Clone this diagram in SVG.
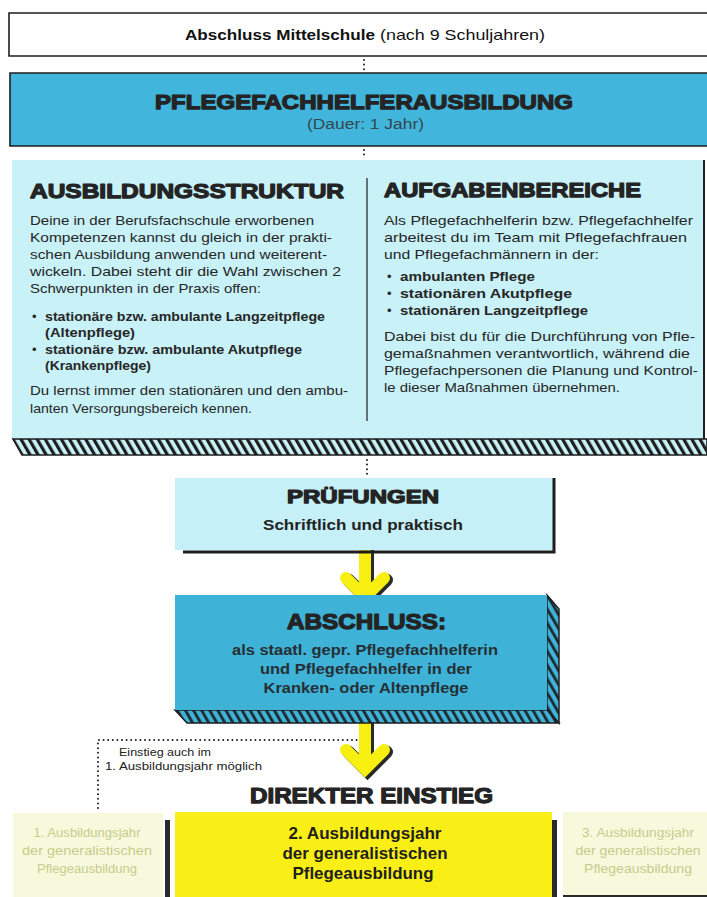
<svg xmlns="http://www.w3.org/2000/svg" width="707" height="897" viewBox="0 0 707 897">
<style>
.h{font-family:"Liberation Sans",Arial,sans-serif;font-weight:bold;fill:#242424;stroke:#242424;stroke-width:1.25;stroke-linejoin:round;text-anchor:start;}
.b{font-family:"Liberation Sans",Arial,sans-serif;font-size:13px;fill:#262626;}
.bb{font-weight:bold;}
.dot{fill:none;stroke:#1e1e1e;stroke-width:2;stroke-linecap:round;stroke-dasharray:0 4.6;}
.arr{fill:none;stroke:#f7ef10;stroke-width:12;stroke-linecap:round;stroke-linejoin:miter;}
.arrs{fill:none;stroke:#2a2a2a;stroke-width:13;stroke-linecap:round;stroke-linejoin:miter;}
.edge{stroke:#1e1e1e;stroke-width:1.6;fill:none;}
.pale{font-family:"Liberation Sans",Arial,sans-serif;font-size:12px;fill:#c6cc8a;text-anchor:middle;}
.yel{font-family:"Liberation Sans",Arial,sans-serif;font-size:17px;font-weight:bold;fill:#1e1e1e;}
</style>
<defs>
<pattern id="hc" width="7" height="7" patternUnits="userSpaceOnUse" patternTransform="rotate(-30)"><rect width="7" height="7" fill="#c8f1f8"/><rect width="3.2" height="7" fill="#1e1e1e"/></pattern>
<pattern id="hb" width="7" height="7" patternUnits="userSpaceOnUse" patternTransform="rotate(-30)"><rect width="7" height="7" fill="#3fb2d8"/><rect width="2.8" height="7" fill="#1e2a30"/></pattern>
</defs>

<g id="connectors">
<line class="dot" x1="364" y1="60" x2="364" y2="71"/>
<line class="dot" x1="364" y1="150" x2="364" y2="159"/>
<line class="dot" x1="367" y1="460" x2="367" y2="475"/>
<polyline class="dot" points="98,808 98,740 358,740"/>
<g id="arrow1">
<path class="arrs" d="M367.5,546 V597 M348.5,580 L367.5,599 L386.5,580"/>
<path class="arr" d="M365,545 V596 M346,578 L365,597 L384,578"/>
</g>
<g id="arrow2">
<path class="arrs" d="M367.5,716 V769 M348.5,752 L367.5,771 L386.5,752"/>
<path class="arr" d="M365,715 V768 M346,750 L365,769 L384,750"/>
</g>
</g>

<g id="mittelschule">
<rect x="9" y="13" width="700" height="43" fill="#ffffff"/>
<path class="edge" d="M707,13 H9 V56 H707"/>
<text x="185" y="40" font-family="Liberation Sans, Arial, sans-serif" font-size="15" fill="#111"><tspan font-weight="bold" textLength="190" lengthAdjust="spacingAndGlyphs">Abschluss Mittelschule</tspan></text>
<text x="380" y="40" font-family="Liberation Sans, Arial, sans-serif" font-size="15" fill="#111" textLength="165" lengthAdjust="spacingAndGlyphs">(nach 9 Schuljahren)</text>
</g>

<g id="pflegefachhelferausbildung">
<rect x="10" y="73" width="699" height="73" fill="#41b5dc"/>
<path class="edge" d="M707,73 H10 V146 H707"/>
<text class="h" x="155" y="109" font-size="21" textLength="418" lengthAdjust="spacingAndGlyphs">PFLEGEFACHHELFERAUSBILDUNG</text>
<text x="307" y="129" font-family="Liberation Sans, Arial, sans-serif" font-size="14" fill="#34474f" textLength="117" lengthAdjust="spacingAndGlyphs">(Dauer: 1 Jahr)</text>
</g>

<g id="ausbildungsinfo">
<rect x="12" y="160" width="693" height="279" fill="#c8f1f8"/>
<line x1="704" y1="160" x2="704" y2="439" stroke="#1e1e1e" stroke-width="2"/>
<polygon points="13,439 707,439 707,455 22,455" fill="url(#hc)" stroke="#1e1e1e" stroke-width="1.6"/>
<line x1="367" y1="178" x2="367" y2="421" stroke="#1e1e1e" stroke-width="1.2"/>
</g>

<g id="ausbildungsstruktur">
<text class="h" x="30" y="198" font-size="21" textLength="314" lengthAdjust="spacingAndGlyphs">AUSBILDUNGSSTRUKTUR</text>
<text class="b" x="30" y="225" textLength="284" lengthAdjust="spacingAndGlyphs">Deine in der Berufsfachschule erworbenen</text>
<text class="b" x="30" y="242" textLength="302" lengthAdjust="spacingAndGlyphs">Kompetenzen kannst du gleich in der prakti-</text>
<text class="b" x="30" y="259" textLength="297" lengthAdjust="spacingAndGlyphs">schen Ausbildung anwenden und weiterent-</text>
<text class="b" x="30" y="276" textLength="311" lengthAdjust="spacingAndGlyphs">wickeln. Dabei steht dir die Wahl zwischen 2</text>
<text class="b" x="30" y="293" textLength="231" lengthAdjust="spacingAndGlyphs">Schwerpunkten in der Praxis offen:</text>
<text class="b" x="32" y="321">•</text>
<text class="b bb" x="45" y="321" textLength="280" lengthAdjust="spacingAndGlyphs">stationäre bzw. ambulante Langzeitpflege</text>
<text class="b bb" x="45" y="337" textLength="90" lengthAdjust="spacingAndGlyphs">(Altenpflege)</text>
<text class="b" x="32" y="354">•</text>
<text class="b bb" x="45" y="354" textLength="257" lengthAdjust="spacingAndGlyphs">stationäre bzw. ambulante Akutpflege</text>
<text class="b bb" x="45" y="370" textLength="106" lengthAdjust="spacingAndGlyphs">(Krankenpflege)</text>
<text class="b" x="30" y="395" textLength="318" lengthAdjust="spacingAndGlyphs">Du lernst immer den stationären und den ambu-</text>
<text class="b" x="30" y="413" textLength="222" lengthAdjust="spacingAndGlyphs">lanten Versorgungsbereich kennen.</text>
</g>

<g id="aufgabenbereiche">
<text class="h" x="384" y="197" font-size="21" textLength="257" lengthAdjust="spacingAndGlyphs">AUFGABENBEREICHE</text>
<text class="b" x="384" y="225" textLength="309" lengthAdjust="spacingAndGlyphs">Als Pflegefachhelferin bzw. Pflegefachhelfer</text>
<text class="b" x="384" y="242" textLength="303" lengthAdjust="spacingAndGlyphs">arbeitest du im Team mit Pflegefachfrauen</text>
<text class="b" x="384" y="259" textLength="215" lengthAdjust="spacingAndGlyphs">und Pflegefachmännern in der:</text>
<text class="b" x="387" y="281">•</text>
<text class="b bb" x="400" y="281" textLength="135" lengthAdjust="spacingAndGlyphs">ambulanten Pflege</text>
<text class="b" x="387" y="298">•</text>
<text class="b bb" x="400" y="298" textLength="172" lengthAdjust="spacingAndGlyphs">stationären Akutpflege</text>
<text class="b" x="387" y="315">•</text>
<text class="b bb" x="400" y="315" textLength="188" lengthAdjust="spacingAndGlyphs">stationären Langzeitpflege</text>
<text class="b" x="384" y="341" textLength="311" lengthAdjust="spacingAndGlyphs">Dabei bist du für die Durchführung von Pfle-</text>
<text class="b" x="384" y="358" textLength="306" lengthAdjust="spacingAndGlyphs">gemaßnahmen verantwortlich, während die</text>
<text class="b" x="384" y="375" textLength="314" lengthAdjust="spacingAndGlyphs">Pflegefachpersonen die Planung und Kontrol-</text>
<text class="b" x="384" y="392" textLength="236" lengthAdjust="spacingAndGlyphs">le dieser Maßnahmen übernehmen.</text>
</g>

<g id="pruefungen">
<rect x="175" y="478" width="378" height="72" fill="#c5f0f8"/>
<path d="M183,552 H554 V478" fill="none" stroke="#1e1e1e" stroke-width="3"/>
<text class="h" x="287" y="503" font-size="19" textLength="152" lengthAdjust="spacingAndGlyphs">PRÜFUNGEN</text>
<text x="263" y="530" font-family="Liberation Sans, Arial, sans-serif" font-size="15" font-weight="bold" fill="#222" textLength="200" lengthAdjust="spacingAndGlyphs">Schriftlich und praktisch</text>
</g>

<g id="abschluss">
<polygon points="547,595 559,609 559,723 547,710" fill="url(#hb)" stroke="#1e1e1e" stroke-width="1.5"/>
<polygon points="175,710 547,710 559,723 187,723" fill="url(#hb)" stroke="#1e1e1e" stroke-width="1.5"/>
<rect x="175" y="595" width="372" height="115" fill="#3fb2d8"/>
<text class="h" x="287" y="629" font-size="22" textLength="159" lengthAdjust="spacingAndGlyphs">ABSCHLUSS:</text>
<text x="365" y="655" font-family="Liberation Sans, Arial, sans-serif" font-size="14" font-weight="bold" fill="#252f33" text-anchor="middle" textLength="266" lengthAdjust="spacingAndGlyphs">als staatl. gepr. Pflegefachhelferin</text>
<text x="366" y="674" font-family="Liberation Sans, Arial, sans-serif" font-size="14" font-weight="bold" fill="#252f33" text-anchor="middle" textLength="212" lengthAdjust="spacingAndGlyphs">und Pflegefachhelfer in der</text>
<text x="366" y="693" font-family="Liberation Sans, Arial, sans-serif" font-size="14" font-weight="bold" fill="#252f33" text-anchor="middle" textLength="205" lengthAdjust="spacingAndGlyphs">Kranken- oder Altenpflege</text>
</g>

<g id="einstieg-hinweis">
<text x="119" y="756" font-family="Liberation Sans, Arial, sans-serif" font-size="10" fill="#222" textLength="92" lengthAdjust="spacingAndGlyphs">Einstieg auch im</text>
<text x="105" y="770" font-family="Liberation Sans, Arial, sans-serif" font-size="10" fill="#222" textLength="157" lengthAdjust="spacingAndGlyphs">1. Ausbildungsjahr möglich</text>
</g>

<g id="direkter-einstieg">
<text class="h" x="250" y="803" font-size="22" textLength="243" lengthAdjust="spacingAndGlyphs">DIREKTER EINSTIEG</text>
</g>

<g id="jahr1">
<rect x="13" y="813" width="150" height="84" fill="#f7f9dd"/>
<rect x="165" y="820" width="5" height="77" fill="#2a2a2a"/>
<text class="pale" x="87" y="837" textLength="107" lengthAdjust="spacingAndGlyphs">1. Ausbildungsjahr</text>
<text class="pale" x="87" y="855" textLength="130" lengthAdjust="spacingAndGlyphs">der generalistischen</text>
<text class="pale" x="87" y="873" textLength="100" lengthAdjust="spacingAndGlyphs">Pflegeausbildung</text>
</g>

<g id="jahr2">
<rect x="175" y="812" width="377" height="85" fill="#f9ef16"/>
<rect x="552" y="820" width="5" height="77" fill="#2a2a2a"/>
<text class="yel" x="365" y="839" text-anchor="middle" textLength="153" lengthAdjust="spacingAndGlyphs">2. Ausbildungsjahr</text>
<text class="yel" x="365" y="859" text-anchor="middle" textLength="165" lengthAdjust="spacingAndGlyphs">der generalistischen</text>
<text class="yel" x="363" y="879" text-anchor="middle" textLength="141" lengthAdjust="spacingAndGlyphs">Pflegeausbildung</text>
</g>

<g id="jahr3">
<rect x="563" y="812" width="144" height="85" fill="#f7f9dd"/>
<line x1="563" y1="896" x2="707" y2="896" stroke="#2a2a2a" stroke-width="2"/>
<text class="pale" x="638" y="837" textLength="112" lengthAdjust="spacingAndGlyphs">3. Ausbildungsjahr</text>
<text class="pale" x="638" y="855" textLength="125" lengthAdjust="spacingAndGlyphs">der generalistischen</text>
<text class="pale" x="638" y="873" textLength="108" lengthAdjust="spacingAndGlyphs">Pflegeausbildung</text>
</g>
</svg>
